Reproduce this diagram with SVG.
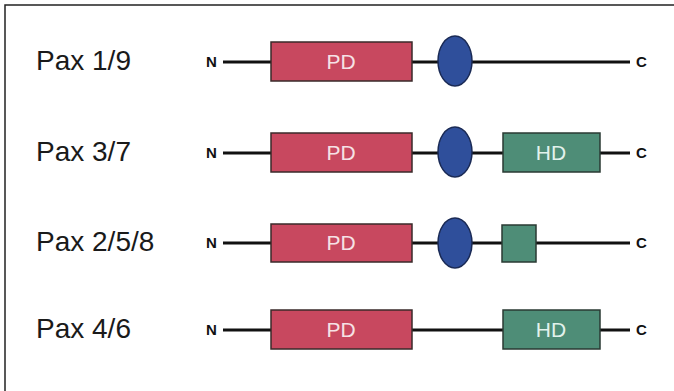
<svg xmlns="http://www.w3.org/2000/svg" width="674" height="391" viewBox="0 0 674 391">
<style>
.lbl{font-family:"Liberation Sans",Arial,sans-serif;font-size:28px;fill:#1a1a1a}
.end{font-family:"Liberation Sans",Arial,sans-serif;font-size:15px;font-weight:bold;fill:#111}
.dom{font-family:"Liberation Sans",Arial,sans-serif;font-size:21px;text-anchor:middle}
.pd{fill:#c8485f;stroke:#3a2a2a;stroke-width:1.5}
.hd{fill:#4e8d77;stroke:#2a3a33;stroke-width:1.5}
.ov{fill:#2f4f9b;stroke:#1a2a55;stroke-width:1.5}
.bb{stroke:#111;stroke-width:3;fill:none}
</style>
<rect x="0" y="0" width="674" height="391" fill="#ffffff"/>
<rect x="5" y="5" width="700" height="420" fill="none" stroke="#222" stroke-width="1.5"/>
<g id="connectors">
<line class="bb" x1="223" y1="62" x2="630" y2="62"/>
<line class="bb" x1="223" y1="153" x2="630" y2="153"/>
<line class="bb" x1="223" y1="243" x2="630" y2="243"/>
<line class="bb" x1="223" y1="330" x2="630" y2="330"/>
</g>
<g id="pax19">
<text class="lbl" x="36" y="70">Pax 1/9</text>
<text class="end" x="206" y="67">N</text>
<rect class="pd" x="271" y="42" width="141" height="39"/>
<text class="dom" x="341" y="69" fill="#f6e2e6">PD</text>
<ellipse class="ov" cx="455" cy="61" rx="17" ry="25"/>
<text class="end" x="636" y="67">C</text>
</g>
<g id="pax37">
<text class="lbl" x="36" y="161">Pax 3/7</text>
<text class="end" x="206" y="158">N</text>
<rect class="pd" x="271" y="133" width="141" height="39"/>
<text class="dom" x="341" y="160" fill="#f6e2e6">PD</text>
<ellipse class="ov" cx="455" cy="152" rx="17" ry="25"/>
<rect class="hd" x="503" y="133" width="97" height="39"/>
<text class="dom" x="551" y="160" fill="#e2f2ec">HD</text>
<text class="end" x="636" y="158">C</text>
</g>
<g id="pax258">
<text class="lbl" x="36" y="251">Pax 2/5/8</text>
<text class="end" x="206" y="248">N</text>
<rect class="pd" x="271" y="224" width="141" height="38"/>
<text class="dom" x="341" y="250" fill="#f6e2e6">PD</text>
<ellipse class="ov" cx="455" cy="243" rx="17" ry="25"/>
<rect class="hd" x="502" y="225" width="34" height="37"/>
<text class="end" x="636" y="248">C</text>
</g>
<g id="pax46">
<text class="lbl" x="36" y="338">Pax 4/6</text>
<text class="end" x="206" y="335">N</text>
<rect class="pd" x="271" y="310" width="141" height="39"/>
<text class="dom" x="341" y="337" fill="#f6e2e6">PD</text>
<rect class="hd" x="503" y="310" width="97" height="39"/>
<text class="dom" x="551" y="337" fill="#e2f2ec">HD</text>
<text class="end" x="636" y="335">C</text>
</g>
</svg>
